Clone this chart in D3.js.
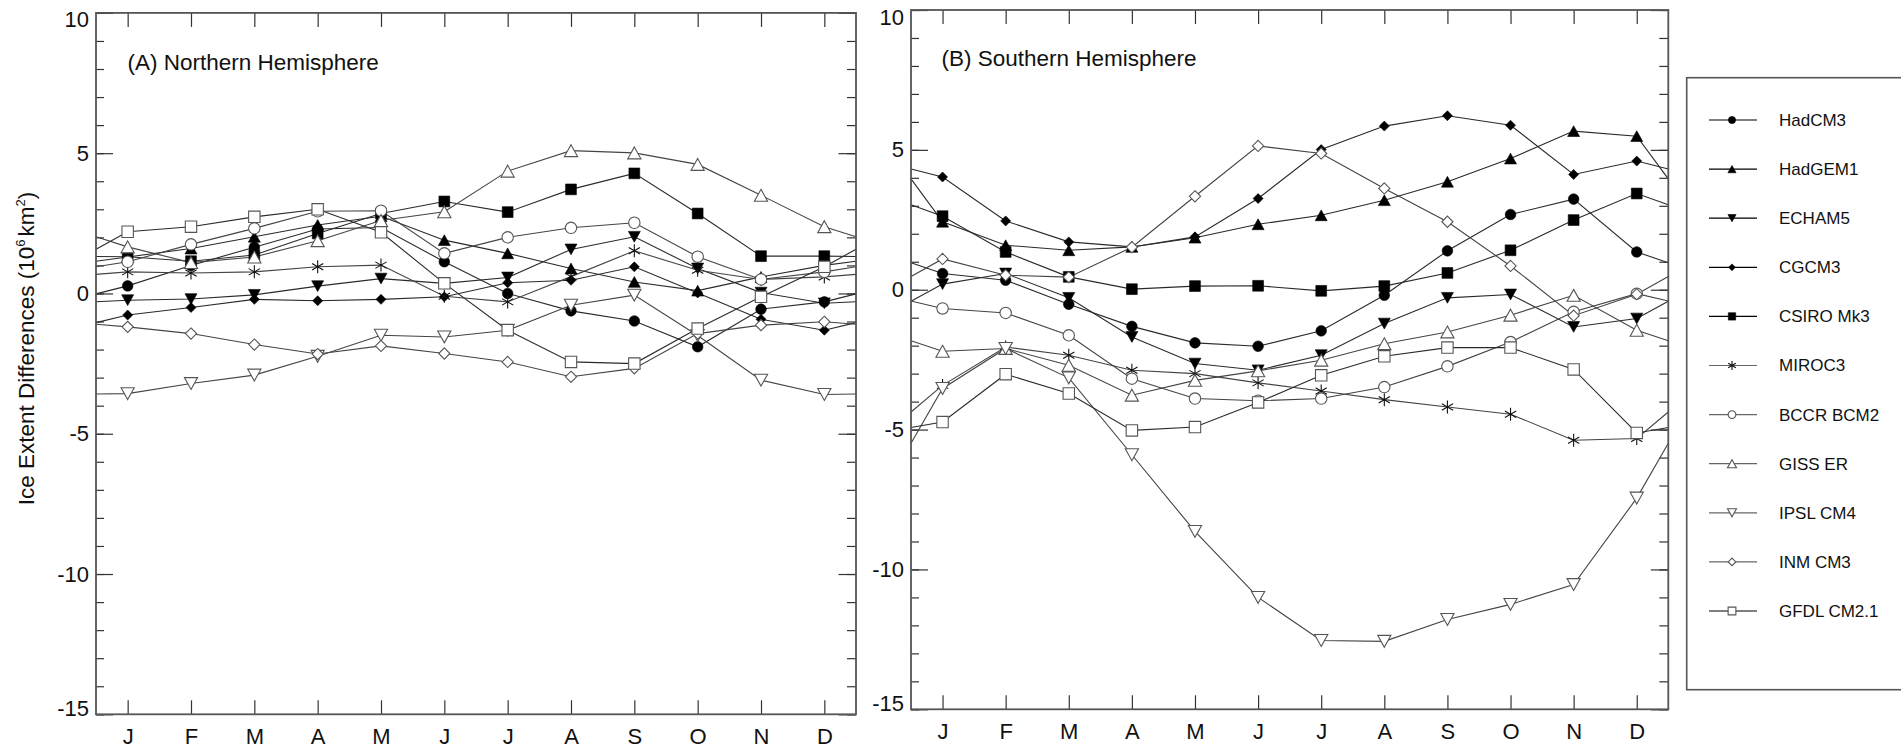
<!DOCTYPE html>
<html>
<head>
<meta charset="utf-8">
<script src="https://cdn.jsdelivr.net/npm/d3@7"></script>
<style>
  body { margin: 0; background: #fff; }
  svg { display: block; }
  text { font-family: "Liberation Sans", Arial, Helvetica, sans-serif; fill: #111; }
</style>
</head>
<body>
<svg id="chart" width="1901" height="752"></svg>
<script>
// ---- categories ----
const months = ["J", "F", "M", "A", "M", "J", "J", "A", "S", "O", "N", "D"];
const models = ["HadCM3", "HadGEM1", "ECHAM5", "CGCM3", "CSIRO Mk3", "MIROC3",
                "BCCR BCM2", "GISS ER", "IPSL CM4", "INM CM3", "GFDL CM2.1"];
const yTicks = [-15, -10, -5, 0, 5, 10];

// ---- Northern Hemisphere ice extent differences (10^6 km^2), Jan..Dec ----
const nhHadCM3   = [0.27, 1.0, 1.65, 2.3, 2.35, 1.13, 0.0, -0.62, -0.98, -1.9, -0.56, -0.3];
const nhHadGEM1  = [1.3, 1.6, 2.02, 2.44, 2.75, 1.9, 1.43, 0.89, 0.41, 0.1, 0.59, 1.0];
const nhECHAM5   = [-0.24, -0.2, -0.05, 0.26, 0.53, 0.36, 0.57, 1.57, 2.02, 0.89, 0.03, -0.35];
const nhCGCM3    = [-0.77, -0.5, -0.21, -0.26, -0.21, -0.12, 0.38, 0.47, 0.95, 0.02, -0.92, -1.31];
const nhCSIRO    = [1.31, 1.15, 1.37, 2.14, 2.85, 3.28, 2.9, 3.71, 4.28, 2.85, 1.33, 1.33];
const nhMIROC3   = [0.77, 0.73, 0.77, 0.95, 1.01, -0.1, -0.3, 0.6, 1.52, 0.83, 0.5, 0.59];
const nhBCCR     = [1.13, 1.75, 2.32, 2.93, 2.95, 1.43, 2.0, 2.34, 2.52, 1.31, 0.5, 0.77];
const nhGISS     = [1.66, 1.1, 1.3, 1.88, 2.6, 2.91, 4.36, 5.09, 5.01, 4.6, 3.5, 2.38];
const nhIPSL     = [-3.57, -3.21, -2.91, -2.24, -1.49, -1.55, -1.31, -0.42, -0.06, -1.5, -3.09, -3.6];
const nhINM      = [-1.19, -1.43, -1.82, -2.16, -1.87, -2.14, -2.44, -2.97, -2.67, -1.43, -1.13, -1.01];
const nhGFDL     = [2.2, 2.38, 2.73, 3.0, 2.18, 0.36, -1.31, -2.44, -2.5, -1.25, -0.12, 0.95];

// ---- Southern Hemisphere ice extent differences (10^6 km^2), Jan..Dec ----
const shHadCM3   = [0.58, 0.34, -0.52, -1.31, -1.9, -2.02, -1.47, -0.2, 1.39, 2.69, 3.24, 1.35];
const shHadGEM1  = [2.43, 1.59, 1.41, 1.53, 1.86, 2.34, 2.66, 3.2, 3.86, 4.69, 5.67, 5.49];
const shECHAM5   = [0.2, 0.58, -0.29, -1.69, -2.64, -2.88, -2.34, -1.21, -0.29, -0.17, -1.33, -1.03];
const shCGCM3    = [4.03, 2.46, 1.71, 1.53, 1.89, 3.26, 5.01, 5.85, 6.22, 5.88, 4.12, 4.6];
const shCSIRO    = [2.63, 1.35, 0.46, 0.02, 0.13, 0.14, -0.04, 0.13, 0.6, 1.41, 2.49, 3.44];
const shMIROC3   = [-3.42, -2.05, -2.34, -2.88, -3.0, -3.33, -3.62, -3.93, -4.19, -4.45, -5.38, -5.32];
const shBCCR     = [-0.67, -0.83, -1.63, -3.18, -3.89, -3.97, -3.89, -3.48, -2.74, -1.87, -0.79, -0.14];
const shGISS     = [-2.2, -2.1, -2.7, -3.77, -3.24, -2.9, -2.52, -1.93, -1.51, -0.91, -0.2, -1.45];
const shIPSL     = [-3.53, -2.1, -3.15, -5.9, -8.64, -11.0, -12.54, -12.57, -11.79, -11.25, -10.54, -7.45];
const shINM      = [1.1, 0.52, 0.45, 1.52, 3.34, 5.14, 4.87, 3.62, 2.43, 0.85, -0.93, -0.16];
const shGFDL     = [-4.73, -3.02, -3.71, -5.03, -4.91, -4.03, -3.06, -2.38, -2.07, -2.07, -2.85, -5.12];

const nhSeries = [nhHadCM3, nhHadGEM1, nhECHAM5, nhCGCM3, nhCSIRO, nhMIROC3,
                  nhBCCR, nhGISS, nhIPSL, nhINM, nhGFDL];
const shSeries = [shHadCM3, shHadGEM1, shECHAM5, shCGCM3, shCSIRO, shMIROC3,
                  shBCCR, shGISS, shIPSL, shINM, shGFDL];

// ---- marker styles, one per model ----
const markerStyle = [
  { shape: "circle",   filled: true,  r: 5.3 },
  { shape: "triUp",    filled: true,  r: 6.0 },
  { shape: "triDown",  filled: true,  r: 6.0 },
  { shape: "diamond",  filled: true,  r: 5.0 },
  { shape: "square",   filled: true,  r: 5.4 },
  { shape: "asterisk", filled: false, r: 6.5 },
  { shape: "circle",   filled: false, r: 5.7 },
  { shape: "triUp",    filled: false, r: 6.6 },
  { shape: "triDown",  filled: false, r: 6.6 },
  { shape: "diamond",  filled: false, r: 5.6 },
  { shape: "square",   filled: false, r: 5.7 }
];

function markerPath(shape, r) {
  const p = d3.path();
  if (shape === "circle") {
    p.moveTo(r, 0); p.arc(0, 0, r, 0, 2 * Math.PI); p.closePath();
  } else if (shape === "square") {
    p.rect(-r, -r, 2 * r, 2 * r);
  } else if (shape === "triUp") {
    const h = r * 0.9;
    p.moveTo(0, -h); p.lineTo(r, h); p.lineTo(-r, h); p.closePath();
  } else if (shape === "triDown") {
    const h = r * 0.9;
    p.moveTo(0, h); p.lineTo(r, -h); p.lineTo(-r, -h); p.closePath();
  } else if (shape === "diamond") {
    p.moveTo(0, -r); p.lineTo(r, 0); p.lineTo(0, r); p.lineTo(-r, 0); p.closePath();
  } else if (shape === "asterisk") {
    const c = Math.cos(Math.PI / 6) * r, s = Math.sin(Math.PI / 6) * r;
    p.moveTo(0, -r); p.lineTo(0, r);
    p.moveTo(-c, -s); p.lineTo(c, s);
    p.moveTo(-c, s); p.lineTo(c, -s);
  }
  return p.toString();
}

function drawMarker(g, i, scale) {
  const st = markerStyle[i];
  const path = g.append("path").attr("d", markerPath(st.shape, st.r * scale));
  if (st.shape === "asterisk") {
    path.attr("fill", "none").attr("stroke", "#111").attr("stroke-width", 1.1);
  } else if (st.filled) {
    path.attr("fill", "#000").attr("stroke", "#000").attr("stroke-width", 0.6);
  } else {
    path.attr("fill", "#fff").attr("stroke", "#555").attr("stroke-width", 1.1);
  }
  return path;
}

const svg = d3.select("#chart");
svg.append("rect").attr("width", 1901).attr("height", 752).attr("fill", "#fff");

function drawPanel(cfg) {
  const x = d3.scaleLinear().domain([0.5, 12.5]).range([cfg.left, cfg.right]);
  const y = d3.scaleLinear().domain([-15, 10]).range([cfg.bottom, cfg.top]);
  const g = svg.append("g");
  const monthIdx = d3.range(1, 13);
  const minor = d3.range(-15, 11);

  // month ticks, bottom with labels, top plain, both pointing inward
  g.append("g").attr("transform", `translate(0,${cfg.bottom})`)
    .call(d3.axisBottom(x).tickValues(monthIdx).tickFormat(i => months[i - 1])
      .tickSizeInner(-14).tickSizeOuter(0).tickPadding(14.5));
  g.append("g").attr("transform", `translate(0,${cfg.top})`)
    .call(d3.axisTop(x).tickValues(monthIdx).tickFormat("")
      .tickSizeInner(-14).tickSizeOuter(0));

  // value ticks: minor every unit, major every 5 with labels on the left
  g.append("g").attr("transform", `translate(${cfg.left},0)`)
    .call(d3.axisLeft(y).tickValues(minor).tickFormat("").tickSizeInner(-8).tickSizeOuter(0));
  const ly = g.append("g").attr("transform", `translate(${cfg.left},0)`)
    .call(d3.axisLeft(y).tickValues(yTicks).tickFormat(d3.format("d"))
      .tickSizeInner(-17).tickSizeOuter(0).tickPadding(7));
  g.append("g").attr("transform", `translate(${cfg.right},0)`)
    .call(d3.axisRight(y).tickValues(minor).tickFormat("").tickSizeInner(-9).tickSizeOuter(0));
  g.append("g").attr("transform", `translate(${cfg.right},0)`)
    .call(d3.axisRight(y).tickValues(yTicks).tickFormat("").tickSizeInner(-17.5).tickSizeOuter(0));

  g.selectAll(".domain").remove();
  g.selectAll(".tick line").attr("stroke", "#333").attr("stroke-width", 1.2);
  g.selectAll(".tick text").attr("font-size", 22).attr("fill", "#111")
    .attr("font-family", '"Liberation Sans", Arial, Helvetica, sans-serif');
  // end labels sit just inside the frame
  ly.selectAll(".tick text")
    .text(d => d < 0 ? "-" + Math.abs(d) : d)
    .attr("y", d => d === 10 ? 7 : (d === -15 ? -6 : 0));

  // series lines, extended to the frame with the Dec/Jan cyclic midpoint
  const line = d3.line().x(d => x(d.m)).y(d => y(d.v));
  cfg.series.forEach((vals, i) => {
    const wrap = (vals[0] + vals[11]) / 2;
    const pts = [{ m: 0.5, v: wrap }]
      .concat(vals.map((v, k) => ({ m: k + 1, v })))
      .concat([{ m: 12.5, v: wrap }]);
    g.append("path").datum(pts).attr("d", line)
      .attr("fill", "none").attr("stroke", i < 5 || i === 10 ? "#2a2a2a" : "#444")
      .attr("stroke-width", 1.1);
  });

  // markers
  cfg.series.forEach((vals, i) => {
    vals.forEach((v, k) => {
      const mg = g.append("g").attr("transform", `translate(${x(k + 1)},${y(v)})`);
      drawMarker(mg, i, 1);
    });
  });

  // frame
  g.append("rect")
    .attr("x", cfg.left).attr("y", cfg.top)
    .attr("width", cfg.right - cfg.left).attr("height", cfg.bottom - cfg.top)
    .attr("fill", "none").attr("stroke", "#555").attr("stroke-width", 1.8);

  g.append("text").attr("x", cfg.titleX).attr("y", cfg.titleY)
    .attr("font-size", 22.5).text(cfg.title);
}

drawPanel({
  left: 96, right: 856, top: 12.9, bottom: 714.3,
  series: nhSeries, title: "(A) Northern Hemisphere", titleX: 127.5, titleY: 69.5
});
drawPanel({
  left: 911, right: 1668.3, top: 10, bottom: 709.3,
  series: shSeries, title: "(B) Southern Hemisphere", titleX: 941.5, titleY: 66
});

// y-axis title
const yt = svg.append("text")
  .attr("transform", "translate(33.5,348.5) rotate(-90)")
  .attr("text-anchor", "middle").attr("font-size", 22.5);
yt.append("tspan").text("Ice Extent Differences (10");
yt.append("tspan").attr("font-size", 13).attr("dy", -9).text("6");
yt.append("tspan").attr("dy", 9).attr("dx", 3).text("km");
yt.append("tspan").attr("font-size", 13).attr("dy", -9).text("2");
yt.append("tspan").attr("dy", 9).text(")");

// legend
const lg = svg.append("g");
lg.append("rect").attr("x", 1686.7).attr("y", 77.7).attr("width", 240).attr("height", 612)
  .attr("fill", "#fff").attr("stroke", "#555").attr("stroke-width", 1.6);
const ly = d3.scalePoint().domain(models).range([120, 611]);
models.forEach((name, i) => {
  const row = lg.append("g").attr("transform", `translate(0,${ly(name)})`);
  row.append("line").attr("x1", 1709).attr("x2", 1757).attr("y1", 0).attr("y2", 0)
    .attr("stroke", i < 5 || i === 10 ? "#000" : "#666").attr("stroke-width", 1.2);
  const mg = row.append("g").attr("transform", "translate(1732,0)");
  drawMarker(mg, i, 0.68);
  row.append("text").attr("x", 1779).attr("y", 0).attr("dy", "0.35em")
    .attr("font-size", 17).text(name);
});
</script>
</body>
</html>
